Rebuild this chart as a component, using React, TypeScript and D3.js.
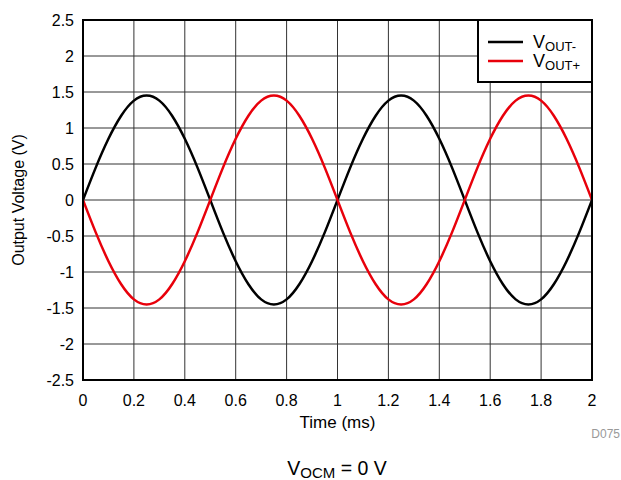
import React from "react";
import * as d3 from "d3";

const xTicks = [0, 0.2, 0.4, 0.6, 0.8, 1, 1.2, 1.4, 1.6, 1.8, 2];
const yTicks = [-2.5, -2, -1.5, -1, -0.5, 0, 0.5, 1, 1.5, 2, 2.5];
const xTickLabels = ["0", "0.2", "0.4", "0.6", "0.8", "1", "1.2", "1.4", "1.6", "1.8", "2"];
const yTickLabels = ["-2.5", "-2", "-1.5", "-1", "-0.5", "0", "0.5", "1", "1.5", "2", "2.5"];

const timeMs = [
  0, 0.05, 0.1, 0.15, 0.2, 0.25, 0.3, 0.35, 0.4, 0.45, 0.5,
  0.55, 0.6, 0.65, 0.7, 0.75, 0.8, 0.85, 0.9, 0.95, 1,
  1.05, 1.1, 1.15, 1.2, 1.25, 1.3, 1.35, 1.4, 1.45, 1.5,
  1.55, 1.6, 1.65, 1.7, 1.75, 1.8, 1.85, 1.9, 1.95, 2,
];
const voutMinus = [
  0, 0.45, 0.85, 1.17, 1.38, 1.45, 1.38, 1.17, 0.85, 0.45, 0,
  -0.45, -0.85, -1.17, -1.38, -1.45, -1.38, -1.17, -0.85, -0.45, 0,
  0.45, 0.85, 1.17, 1.38, 1.45, 1.38, 1.17, 0.85, 0.45, 0,
  -0.45, -0.85, -1.17, -1.38, -1.45, -1.38, -1.17, -0.85, -0.45, 0,
];
const voutPlus = [
  0, -0.45, -0.85, -1.17, -1.38, -1.45, -1.38, -1.17, -0.85, -0.45, 0,
  0.45, 0.85, 1.17, 1.38, 1.45, 1.38, 1.17, 0.85, 0.45, 0,
  -0.45, -0.85, -1.17, -1.38, -1.45, -1.38, -1.17, -0.85, -0.45, 0,
  0.45, 0.85, 1.17, 1.38, 1.45, 1.38, 1.17, 0.85, 0.45, 0,
];

const FONT = "'Liberation Sans', Arial, sans-serif";

export default function App() {
  const left = 83, right = 592, top = 20, bottom = 380;
  const x = d3.scaleLinear().domain([0, 2]).range([left, right]);
  const y = d3.scaleLinear().domain([-2.5, 2.5]).range([bottom, top]);
  const line = d3
    .line<number>()
    .x((_, i) => x(timeMs[i]))
    .y((d) => y(d))
    .curve(d3.curveNatural);

  return (
    <svg width={621} height={480} style={{ position: "absolute", left: 0, top: 0, background: "#fff" }} fontFamily={FONT}>
      {xTicks.map((t) => (
        <line key={"gx" + t} x1={x(t)} x2={x(t)} y1={top} y2={bottom} stroke="#333" strokeWidth={1} />
      ))}
      {yTicks.map((t) => (
        <line key={"gy" + t} x1={left} x2={right} y1={y(t)} y2={y(t)} stroke="#333" strokeWidth={1} />
      ))}
      <path d={line(voutMinus) || ""} fill="none" stroke="#000" strokeWidth={2.5} />
      <path d={line(voutPlus) || ""} fill="none" stroke="#e8000b" strokeWidth={2.5} />
      <rect x={left} y={top} width={right - left} height={bottom - top} fill="none" stroke="#000" strokeWidth={2} />
      {/* legend */}
      <rect x={478} y={top} width={right - 478} height={62} fill="#fff" stroke="#000" strokeWidth={2} />
      <line x1={488} x2={523} y1={42} y2={42} stroke="#000" strokeWidth={2.5} />
      <line x1={488} x2={523} y1={61} y2={61} stroke="#e8000b" strokeWidth={2.5} />
      <text x={533} y={48} fontSize={18}>
        V<tspan fontSize={13} dy={3}>OUT-</tspan>
      </text>
      <text x={533} y={67} fontSize={18}>
        V<tspan fontSize={13} dy={3}>OUT+</tspan>
      </text>
      {xTicks.map((t, i) => (
        <text key={"tx" + t} x={x(t)} y={406} fontSize={16} textAnchor="middle">
          {xTickLabels[i]}
        </text>
      ))}
      {yTicks.map((t, i) => (
        <text key={"ty" + t} x={74} y={y(t) + 6} fontSize={16} textAnchor="end">
          {yTickLabels[i]}
        </text>
      ))}
      <text x={(left + right) / 2} y={428} fontSize={17} textAnchor="middle">Time (ms)</text>
      <text transform={`translate(24,${(top + bottom) / 2}) rotate(-90)`} fontSize={16} textAnchor="middle">
        Output Voltage (V)
      </text>
      <text x={620} y={438} fontSize={12} fill="#999" textAnchor="end">D075</text>
      <text x={337} y={475} fontSize={19.5} textAnchor="middle">
        V<tspan fontSize={15} dy={3}>OCM</tspan>
        <tspan dy={-3}> = 0 V</tspan>
      </text>
    </svg>
  );
}
